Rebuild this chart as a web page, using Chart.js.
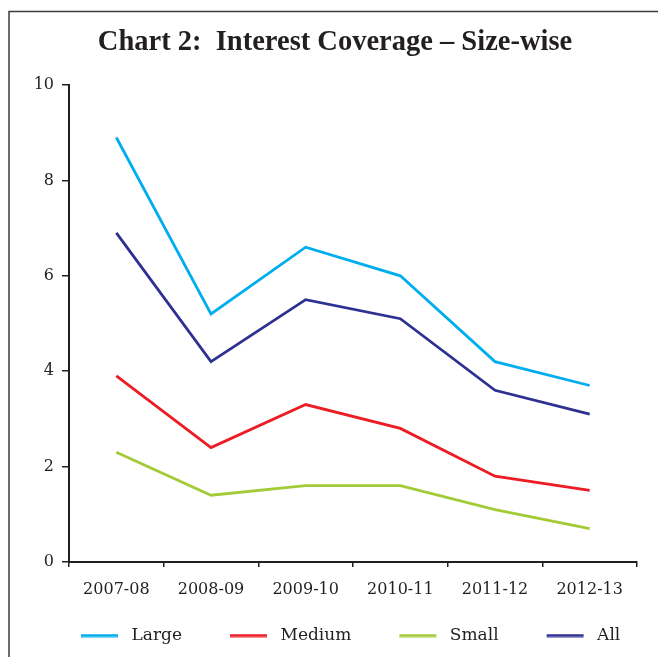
<!DOCTYPE html>
<html>
<head>
<meta charset="utf-8">
<script src="https://cdn.jsdelivr.net/npm/chart.js@4"></script>
<style>
  html, body { margin: 0; padding: 0; background: #ffffff; }
  #wrap { position: relative; width: 658px; height: 657px; }
</style>
</head>
<body>
<div id="wrap"><canvas id="c" width="658" height="657"></canvas></div>
<script>
const categories = ['2007-08', '2008-09', '2009-10', '2010-11', '2011-12', '2012-13'];
const seriesNames = ['Large', 'Medium', 'Small', 'All'];
const largeValues  = [8.9, 5.2, 6.6, 6.0, 4.2, 3.7];
const mediumValues = [3.9, 2.4, 3.3, 2.8, 1.8, 1.5];
const smallValues  = [2.3, 1.4, 1.6, 1.6, 1.1, 0.7];
const allValues    = [6.9, 4.2, 5.5, 5.1, 3.6, 3.1];
const yTicks = [0, 2, 4, 6, 8, 10];
const titleText = 'Chart 2:  Interest Coverage \u2013 Size-wise';

const colors = ['#00AEEF', '#ED1C24', '#A3CB38', '#2E3192'];
const seriesValues = [largeValues, mediumValues, smallValues, allValues];

function legendLine(color) {
  const c = document.createElement('canvas');
  c.width = 80; c.height = 4;
  const g = c.getContext('2d');
  g.fillStyle = color;
  g.fillRect(38, 0.5, 37, 3);
  return c;
}

const framePlugin = {
  id: 'frame',
  beforeDraw(chart) {
    const ctx = chart.ctx;
    ctx.save();
    ctx.strokeStyle = '#3c3c3c';
    ctx.lineWidth = 1.5;
    ctx.beginPath();
    ctx.moveTo(9, 657);
    ctx.lineTo(9, 11.5);
    ctx.lineTo(658, 11.5);
    ctx.stroke();
    ctx.restore();
  }
};

const axisColor = '#231F20';

new Chart(document.getElementById('c'), {
  type: 'line',
  data: {
    labels: categories,
    datasets: seriesNames.map((name, i) => ({
      label: name,
      data: seriesValues[i],
      borderColor: colors[i],
      backgroundColor: colors[i],
      borderWidth: 2.8,
      pointRadius: 0,
      pointHoverRadius: 0,
      pointStyle: legendLine(colors[i]),
      tension: 0,
      fill: false
    }))
  },
  options: {
    responsive: false,
    animation: false,
    devicePixelRatio: 1,
    layout: { padding: { top: 12, left: 33, right: 21, bottom: 3 } },
    plugins: {
      title: {
        display: true,
        text: titleText,
        color: axisColor,
        font: { family: 'Liberation Serif', weight: 'bold', size: 28.5 },
        padding: { top: 14, bottom: 24.8 }
      },
      legend: {
        position: 'bottom',
        align: 'start',
        labels: {
          usePointStyle: true,
          pointStyleWidth: 80,
          padding: 10,
          color: axisColor,
          font: { family: 'DejaVu Serif', size: 17 }
        }
      },
      tooltip: { enabled: false }
    },
    scales: {
      x: {
        type: 'category',
        offset: true,
        grid: {
          offset: true,
          drawOnChartArea: false,
          drawTicks: true,
          tickLength: 5,
          color: axisColor,
          lineWidth: 1.5
        },
        border: { display: true, color: axisColor, width: 2 },
        ticks: {
          color: axisColor,
          padding: 13,
          maxRotation: 0,
          autoSkip: false,
          font: { family: 'DejaVu Serif', size: 16 }
        },
        afterFit(scale) { scale.height = 55; }
      },
      y: {
        min: 0,
        max: 10,
        afterBuildTicks(scale) { scale.ticks = yTicks.map(v => ({ value: v })); },
        grid: {
          drawOnChartArea: false,
          drawTicks: true,
          tickLength: 7,
          color: axisColor,
          lineWidth: 1.5
        },
        border: { display: true, color: axisColor, width: 2 },
        ticks: {
          color: axisColor,
          padding: 8,
          font: { family: 'DejaVu Serif', size: 16 }
        },
        afterFit(scale) { scale.width = 36; }
      }
    }
  },
  plugins: [framePlugin]
});
</script>
</body>
</html>
